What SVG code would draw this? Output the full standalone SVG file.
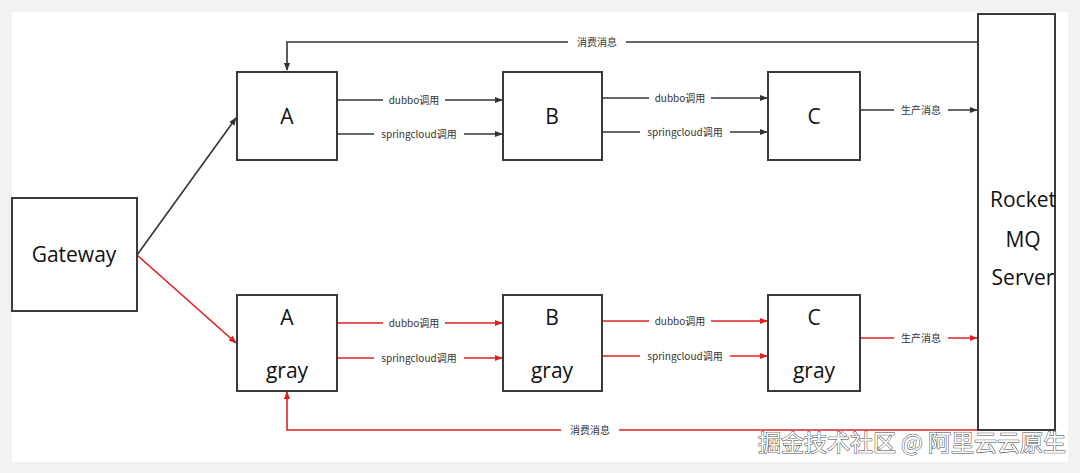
<svg xmlns="http://www.w3.org/2000/svg" width="1080" height="473" viewBox="0 0 1080 473">
<style>
.box{fill:#fff;stroke:#3a3a3a;stroke-width:2}
.big{font-family:"Open Sans","Liberation Sans","Noto Sans CJK SC",sans-serif;font-size:21px;fill:#111;text-anchor:middle}
.lbl{font-family:"Noto Sans CJK SC","Liberation Sans",sans-serif;font-size:10px;fill:#333;text-anchor:middle}
.k{stroke:#333;stroke-width:1.6;fill:none}
.r{stroke:#e02020;stroke-width:1.6;fill:none}
.bg{fill:#fff;stroke:none}
</style>
<defs>
<marker id="ak" viewBox="0 0 10 10" refX="9" refY="5" markerWidth="5" markerHeight="5" orient="auto"><path d="M0,1 L10,5 L0,9 z" fill="#333"/></marker>
<marker id="ar" viewBox="0 0 10 10" refX="9" refY="5" markerWidth="5" markerHeight="5" orient="auto"><path d="M0,1 L10,5 L0,9 z" fill="#e02020"/></marker>
</defs>
<rect width="1080" height="473" fill="#f2f2f2"/>
<rect x="12" y="12" width="1056" height="450" fill="#fff"/>
<g id="connectors">
<path class="k" d="M978,42 H287 V70" marker-end="url(#ak)"/>
<path class="r" d="M978,430 H287 V392" marker-end="url(#ar)"/>
<path class="k" d="M137,255 L236,118" marker-end="url(#ak)"/>
<path class="r" d="M137,255 L236,343" marker-end="url(#ar)"/>
<path class="k" d="M337,100 H502" marker-end="url(#ak)"/>
<path class="k" d="M337,134 H502" marker-end="url(#ak)"/>
<path class="k" d="M602,98 H767" marker-end="url(#ak)"/>
<path class="k" d="M602,132 H767" marker-end="url(#ak)"/>
<path class="k" d="M860,110 H977" marker-end="url(#ak)"/>
<path class="r" d="M337,323 H502" marker-end="url(#ar)"/>
<path class="r" d="M337,358 H502" marker-end="url(#ar)"/>
<path class="r" d="M602,321 H767" marker-end="url(#ar)"/>
<path class="r" d="M602,356 H767" marker-end="url(#ar)"/>
<path class="r" d="M860,338 H977" marker-end="url(#ar)"/>
<rect class="bg" x="568" y="34" width="58" height="16"/>
<rect class="bg" x="561" y="422" width="58" height="16"/>
<rect class="bg" x="383" y="92" width="62" height="16"/>
<rect class="bg" x="374" y="126" width="90" height="16"/>
<rect class="bg" x="649" y="90" width="62" height="16"/>
<rect class="bg" x="640" y="124" width="90" height="16"/>
<rect class="bg" x="894" y="102" width="54" height="16"/>
<rect class="bg" x="383" y="315" width="62" height="16"/>
<rect class="bg" x="374" y="350" width="90" height="16"/>
<rect class="bg" x="649" y="313" width="62" height="16"/>
<rect class="bg" x="640" y="348" width="90" height="16"/>
<rect class="bg" x="894" y="330" width="54" height="16"/>
<text class="lbl" x="597" y="46">消费消息</text>
<text class="lbl" x="590" y="434">消费消息</text>
<text class="lbl" x="414" y="104">dubbo调用</text>
<text class="lbl" x="419" y="138">springcloud调用</text>
<text class="lbl" x="680" y="102">dubbo调用</text>
<text class="lbl" x="685" y="136">springcloud调用</text>
<text class="lbl" x="921" y="114">生产消息</text>
<text class="lbl" x="414" y="327">dubbo调用</text>
<text class="lbl" x="419" y="362">springcloud调用</text>
<text class="lbl" x="680" y="325">dubbo调用</text>
<text class="lbl" x="685" y="360">springcloud调用</text>
<text class="lbl" x="921" y="342">生产消息</text>
</g>
<g id="gateway"><rect class="box" x="12" y="198" width="125" height="113"/><text class="big" x="74" y="262">Gateway</text></g>
<g id="A"><rect class="box" x="237" y="72" width="100" height="88"/><text class="big" x="287" y="124">A</text></g>
<g id="B"><rect class="box" x="503" y="72" width="99" height="88"/><text class="big" x="552" y="124">B</text></g>
<g id="C"><rect class="box" x="768" y="72" width="92" height="88"/><text class="big" x="814" y="124">C</text></g>
<g id="Agray"><rect class="box" x="237" y="295" width="100" height="96"/><text class="big" x="287" y="325">A</text><text class="big" x="287" y="378">gray</text></g>
<g id="Bgray"><rect class="box" x="503" y="295" width="99" height="96"/><text class="big" x="552" y="325">B</text><text class="big" x="552" y="378">gray</text></g>
<g id="Cgray"><rect class="box" x="768" y="295" width="92" height="96"/><text class="big" x="814" y="325">C</text><text class="big" x="814" y="378">gray</text></g>
<g id="rocketmq"><rect class="box" x="978" y="14" width="77" height="416"/>
<text class="big" x="1023" y="207" font-size="20">Rocket</text><text class="big" x="1023" y="247" font-size="20">MQ</text><text class="big" x="1023" y="285" font-size="20">Server</text></g>
<text x="1066" y="451" text-anchor="end" font-family="Noto Sans CJK SC,sans-serif" font-size="23" fill="#fff" stroke="#444" stroke-width="1" paint-order="stroke">掘金技术社区 @ 阿里云云原生</text>
</svg>
